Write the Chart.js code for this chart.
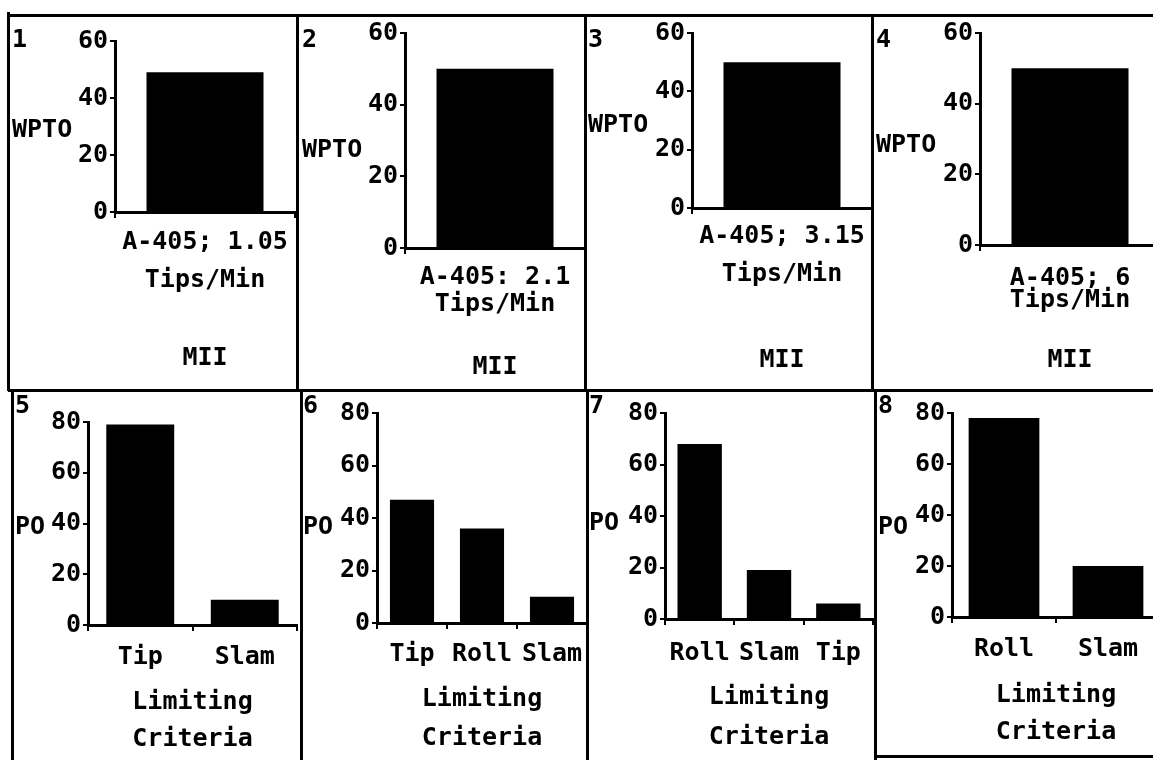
<!DOCTYPE html>
<html>
<head>
<meta charset="utf-8">
<script src="https://cdn.jsdelivr.net/npm/chart.js@4.4.0/dist/chart.umd.min.js"></script>
<style>
  html, body { margin: 0; padding: 0; background: #fff; }
  body { width: 1153px; height: 760px; position: relative; overflow: hidden; }
  canvas { position: absolute; }
  .rule { position: absolute; background: #000; }
</style>
</head>
<body>
<script>
// Top row: WPTO for MII at four tip rates
const topCategories = [
  [["A-405; 1.05", "Tips/Min"]],
  [["A-405: 2.1", "Tips/Min"]],
  [["A-405; 3.15", "Tips/Min"]],
  [["A-405; 6", "Tips/Min"]]
];
const topValues = [[49], [50], [50], [50]];
const topTicks = [0, 20, 40, 60];
const topYTitle = "WPTO";
const topXTitle = ["MII"];

// Bottom row: PO by limiting criteria
const bottomCategories = [
  ["Tip", "Slam"],
  ["Tip", "Roll", "Slam"],
  ["Roll", "Slam", "Tip"],
  ["Roll", "Slam"]
];
const bottomValues = [[79, 10], [47, 36, 10], [68, 19, 6], [78, 20]];
const bottomTicks = [0, 20, 40, 60, 80];
const bottomYTitle = "PO";
const bottomXTitle = ["Limiting", "Criteria"];

const panelNumbers = ["1", "2", "3", "4", "5", "6", "7", "8"];

const FONT_FAMILY = '"DejaVu Sans Mono", "Liberation Mono", monospace';
const FONT_SIZE = 25;

// where each panel sits on the page (canvas box, axis positions)
const layouts = [
  { x: 8,   y: 15,  w: 289, h: 375, axisX: 115, topY: 41, baseY: 212, padR: 2, tickPad: 5,  tickLH: 38, titlePad: 14,  titleLH: 36, bar: 0.65, numY: 25, labX: 4, labY: 115 },
  { x: 297, y: 15,  w: 288, h: 375, axisX: 405, topY: 33, baseY: 248, padR: 0, tickPad: 10, tickLH: 27, titlePad: 5,   titleLH: 36, bar: 0.65, numY: 25, labX: 5, labY: 135 },
  { x: 585, y: 15,  w: 287, h: 375, axisX: 692, topY: 33, baseY: 208, padR: 0, tickPad: 3,  tickLH: 38, titlePad: 12,  titleLH: 36, bar: 0.65, numY: 25, labX: 3, labY: 110 },
  { x: 872, y: 15,  w: 288, h: 375, axisX: 980, topY: 33, baseY: 245, padR: 0, tickPad: 16, tickLH: 22, titlePad: 12,  titleLH: 36, bar: 0.65, numY: 25, labX: 4, labY: 130 },
  { x: 12,  y: 390, w: 288, h: 370, axisX: 88,  topY: 422, baseY: 625, padR: 3, tickPad: 8,  tickLH: 36, titlePad: 2.5, titleLH: 37, bar: 0.65, numY: 16, labX: 3, labY: 137 },
  { x: 301, y: 390, w: 289, h: 370, axisX: 377, topY: 413, baseY: 623, padR: 3, tickPad: 7,  tickLH: 36, titlePad: 2.5, titleLH: 39, bar: 0.63, numY: 16, labX: 2, labY: 137 },
  { x: 587, y: 390, w: 288, h: 370, axisX: 665, topY: 413, baseY: 619, padR: 2, tickPad: 10, tickLH: 36, titlePad: 3,   titleLH: 40, bar: 0.64, numY: 16, labX: 2, labY: 133 },
  { x: 875, y: 390, w: 285, h: 370, axisX: 952, topY: 413, baseY: 617, padR: 0, tickPad: 8,  tickLH: 36, titlePad: 9.5, titleLH: 37, bar: 0.68, numY: 16, labX: 3, labY: 137 }
];

// panel borders: [left, top, width, height]
const rules = [
  [8, 14, 1145, 3],
  [7, 12, 3, 379], [296, 14, 3, 377], [584, 14, 3, 377], [871, 14, 3, 377],
  [8, 389, 1145, 3],
  [11, 389, 3, 371], [300, 389, 3, 371], [586, 389, 3, 371], [874, 389, 3, 371],
  [874, 755, 279, 3]
];

Chart.defaults.color = "#000";
Chart.defaults.font.family = FONT_FAMILY;
Chart.defaults.font.size = FONT_SIZE;
Chart.defaults.font.weight = "bold";

// panel number in the corner and the horizontal y axis label
const panelText = {
  id: "panelText",
  afterDraw(chart, args, opts) {
    const ctx = chart.ctx;
    ctx.save();
    ctx.fillStyle = "#000";
    ctx.font = "bold " + FONT_SIZE + "px " + FONT_FAMILY;
    ctx.textAlign = "left";
    ctx.textBaseline = "middle";
    ctx.fillText(opts.number, opts.labX, opts.numY);
    ctx.fillText(opts.title, opts.labX, opts.labY);
    ctx.restore();
  }
};

function makePanel(index, categories, values, ticks, yTitle, xTitle) {
  const lay = layouts[index];
  const canvas = document.createElement("canvas");
  canvas.width = lay.w;
  canvas.height = lay.h;
  canvas.style.left = lay.x + "px";
  canvas.style.top = lay.y + "px";
  document.body.appendChild(canvas);

  new Chart(canvas, {
    type: "bar",
    data: {
      labels: categories,
      datasets: [{
        data: values,
        backgroundColor: "#000",
        borderWidth: 0,
        categoryPercentage: 1,
        barPercentage: lay.bar
      }]
    },
    options: {
      responsive: false,
      animation: false,
      layout: { padding: { left: 0, top: lay.topY - lay.y, right: lay.padR, bottom: 0 } },
      plugins: {
        legend: { display: false },
        tooltip: { enabled: false },
        panelText: { number: panelNumbers[index], title: yTitle, labX: lay.labX, numY: lay.numY, labY: lay.labY }
      },
      scales: {
        x: {
          grid: { drawOnChartArea: false, drawTicks: true, tickLength: 6, color: "#000", lineWidth: 2 },
          border: { display: true, color: "#000", width: 3 },
          ticks: {
            padding: lay.tickPad,
            autoSkip: false,
            maxRotation: 0,
            minRotation: 0,
            font: { lineHeight: lay.tickLH + "px" }
          },
          title: {
            display: true,
            text: xTitle,
            padding: { top: 0, bottom: lay.titlePad },
            font: { lineHeight: lay.titleLH + "px" }
          },
          afterFit(scale) { scale.height = lay.y + lay.h - lay.baseY; }
        },
        y: {
          min: ticks[0],
          max: ticks[ticks.length - 1],
          grid: { drawOnChartArea: false, drawTicks: true, tickLength: 5, color: "#000", lineWidth: 2 },
          border: { display: true, color: "#000", width: 3 },
          ticks: { stepSize: ticks[1] - ticks[0], padding: 2 },
          afterFit(scale) { scale.width = lay.axisX - lay.x; }
        }
      }
    },
    plugins: [panelText]
  });
}

for (let i = 0; i < 4; i++) {
  makePanel(i, topCategories[i], topValues[i], topTicks, topYTitle, topXTitle);
}
for (let i = 0; i < 4; i++) {
  makePanel(i + 4, bottomCategories[i], bottomValues[i], bottomTicks, bottomYTitle, bottomXTitle);
}

rules.forEach(function (r) {
  const div = document.createElement("div");
  div.className = "rule";
  div.style.left = r[0] + "px";
  div.style.top = r[1] + "px";
  div.style.width = r[2] + "px";
  div.style.height = r[3] + "px";
  document.body.appendChild(div);
});
</script>
</body>
</html>
